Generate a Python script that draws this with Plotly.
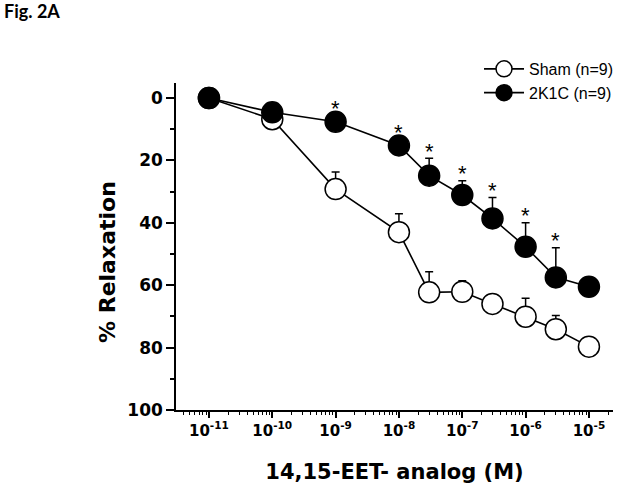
import math
import plotly.graph_objects as go

# ---- data ----
concentrations = [1e-11, 1e-10, 1e-9, 1e-8, 3e-8, 1e-7, 3e-7, 1e-6, 3e-6, 1e-5]
sham_mean = [0.0, 6.8, 29.2, 43.0, 62.3, 62.1, 66.0, 70.1, 74.1, 79.7]
sham_sem = [0.0, 0.0, 5.5, 5.9, 6.6, 3.5, 0.0, 5.9, 4.4, 0.0]
k2c_mean = [0.0, 4.6, 7.6, 15.2, 24.9, 31.1, 38.6, 47.7, 57.5, 60.5]
k2c_sem = [0.0, 0.0, 0.0, 0.0, 5.6, 4.6, 6.7, 7.7, 9.5, 0.0]
significant = [False, False, True, True, True, True, True, True, True, False]

x_tickvals = [1e-11, 1e-10, 1e-9, 1e-8, 1e-7, 1e-6, 1e-5]
x_ticktext = ["10<sup>-11</sup>", "10<sup>-10</sup>", "10<sup>-9</sup>", "10<sup>-8</sup>",
              "10<sup>-7</sup>", "10<sup>-6</sup>", "10<sup>-5</sup>"]
y_tickvals = [0, 20, 40, 60, 80, 100]

series_names = ["Sham (n=9)", "2K1C (n=9)"]

FONT = "Liberation Sans, Arial, sans-serif"
BOLD_FONT = "DejaVu Sans, Arial, sans-serif"

minor_x = [m * 10.0 ** e for e in range(-12, -4) for m in range(2, 10)]

fig = go.Figure()

def add_series(name, mean, sem, fill):
    fig.add_trace(go.Scatter(
        x=concentrations, y=mean, name=name, mode="lines+markers",
        line=dict(color="black", width=1.6),
        marker=dict(size=21, color=fill, line=dict(color="black", width=1.5)),
        error_y=dict(type="data", symmetric=False, array=[0] * len(sem), arrayminus=sem,
                     color="black", thickness=1.5, width=4),
    ))

add_series(series_names[0], sham_mean, sham_sem, "white")
add_series(series_names[1], k2c_mean, k2c_sem, "black")

annotations = []
for xv, m, s, sig in zip(concentrations, k2c_mean, k2c_sem, significant):
    if sig:
        annotations.append(dict(
            x=math.log10(xv), y=m - s, xref="x", yref="y", text="*", showarrow=False,
            yanchor="middle", xanchor="center", yshift=(7 if s > 0 else 13),
            font=dict(family=FONT, size=22, color="black")))

# y axis title as annotation
annotations.append(dict(
    x=-0.1556, y=0.4526, xref="paper", yref="paper", text="% Relaxation",
    textangle=-90, showarrow=False, xanchor="center", yanchor="middle",
    font=dict(family=BOLD_FONT, size=22, color="black", weight="bold")))

fig.update_layout(
    width=624, height=490,
    margin=dict(l=176, r=11, t=83, b=80, autoexpand=False),
    paper_bgcolor="white", plot_bgcolor="white",
    title=dict(text="Fig. 2A", x=4 / 624, xref="container", xanchor="left",
               y=1 - 12 / 490, yref="container", yanchor="middle",
               font=dict(family="Lato, sans-serif", size=18, color="black", weight="bold")),
    showlegend=True,
    legend=dict(x=0.6934, y=1.095, xanchor="left", yanchor="top", itemwidth=40,
                font=dict(family=FONT, size=16, color="black"),
                bgcolor="rgba(0,0,0,0)", itemsizing="trace"),
    annotations=annotations,
    xaxis=dict(
        type="log", range=[-11.52, -4.62],
        tickmode="array", tickvals=x_tickvals, ticktext=x_ticktext,
        ticks="outside", ticklen=6, tickwidth=1.5, tickcolor="black",
        minor=dict(tickmode="array", tickvals=minor_x, ticks="outside", ticklen=3,
                   tickwidth=1.2, tickcolor="black"),
        showline=True, linecolor="black", linewidth=1.5,
        showgrid=False, zeroline=False,
        tickfont=dict(family=BOLD_FONT, size=15, color="black", weight="bold"),
        title=dict(text="14,15-EET- analog (M)", standoff=26,
                   font=dict(family=BOLD_FONT, size=21, color="black", weight="bold")),
    ),
    yaxis=dict(
        range=[100, -4.8],
        tickmode="array", tickvals=y_tickvals,
        ticks="outside", ticklen=8, tickwidth=1.5, tickcolor="black",
        minor=dict(dtick=10, tick0=0, ticks="outside", ticklen=4, tickwidth=1.5,
                   tickcolor="black"),
        showline=True, linecolor="black", linewidth=1.5,
        showgrid=False, zeroline=False,
        tickfont=dict(family=BOLD_FONT, size=17, color="black", weight="bold"),
    ),
)

fig.write_html("out.html", config={"displayModeBar": False},
               post_script="document.body.style.margin='0';")
